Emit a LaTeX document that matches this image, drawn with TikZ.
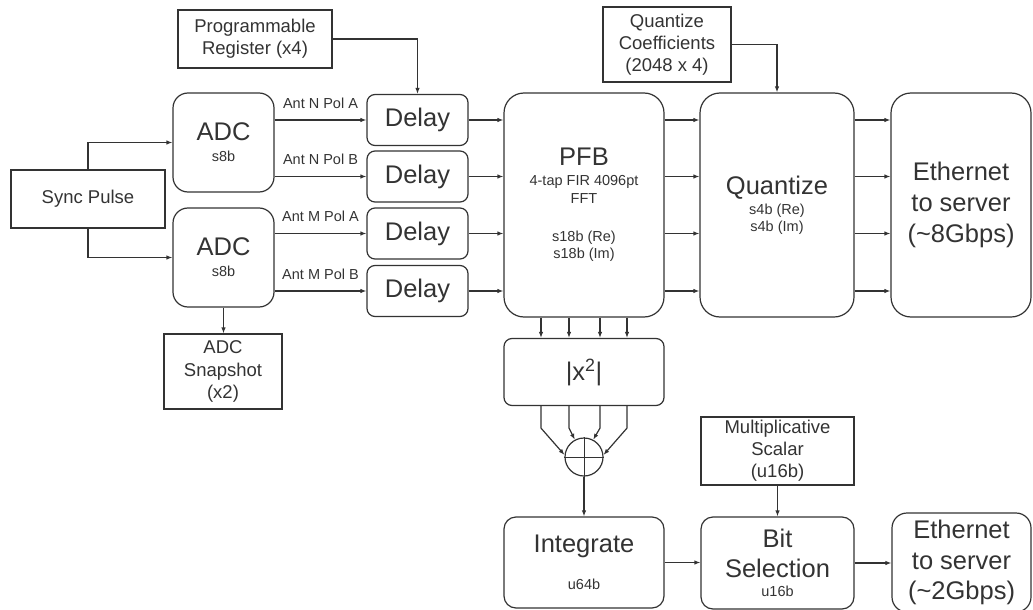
\documentclass[tikz,border=0pt]{standalone}
\usepackage{fontspec}
\setmainfont{Liberation Sans}
\usetikzlibrary{arrows.meta}
\definecolor{diagink}{HTML}{333333}
\newcommand\bigtxt{\fontsize{25.5}{30.6}\selectfont}
\newcommand\midtxt{\fontsize{18.5}{22.2}\selectfont}
\newcommand\smalltxt{\fontsize{14.5}{17.4}\selectfont}

\begin{document}
\begin{tikzpicture}[x=1pt, y=-1pt, line width=1.2pt, color=diagink,
  blk/.style={draw, rounded corners=#1, inner sep=0pt, align=center},
  sqbox/.style={draw, inner sep=0pt, align=center, font=\midtxt},
  link/.style={-{Latex[length=6pt,width=4.5pt]}},
  lbl/.style={above=11pt, inner sep=0pt, font=\smalltxt}]
\clip (0,0) rectangle (1033,610);

% inputs
\node[sqbox, minimum width=154pt, minimum height=58pt] (progreg) at (255,39) {Programmable\\Register (x4)};
\node[sqbox, minimum width=154pt, minimum height=58pt] (sync) at (88,199) {Sync Pulse};
\node[blk=15pt, font=\smalltxt, minimum width=101pt, minimum height=99pt] (adc1) at (223.5,142.5) {{\bigtxt ADC}\\[3.6pt]s8b};
\node[blk=15pt, font=\smalltxt, minimum width=101pt, minimum height=99pt] (adc2) at (223.5,257.5) {{\bigtxt ADC}\\[3.6pt]s8b};
\node[sqbox, minimum width=118pt, minimum height=75pt] (snap) at (223,371.5) {ADC\\Snapshot\\(x2)};
\foreach \i/\y in {1/120,2/176.5,3/233.5,4/291}
  \node[blk=8pt, font=\bigtxt, minimum width=101pt, minimum height=51pt] (delay\i) at (417.5,\y) {Delay};

% channeliser
\node[blk=20pt, font=\smalltxt, minimum width=160pt, minimum height=224pt] (pfb) at (584,205) {{\bigtxt PFB}\\[2.6pt]4-tap FIR 4096pt\\FFT\\[20.6pt]s18b (Re)\\s18b (Im)};
\node[sqbox, minimum width=128pt, minimum height=75pt] (qcoef) at (667,44.5) {Quantize\\Coefficients\\(2048 x 4)};
\node[blk=20pt, font=\smalltxt, minimum width=154pt, minimum height=224pt] (quant) at (777,205) {{\bigtxt Quantize}\\[2.6pt]s4b (Re)\\s4b (Im)};
\node[blk=20pt, font=\bigtxt, minimum width=140pt, minimum height=224pt] (eth1) at (961,205) {Ethernet\\to server\\(\textasciitilde 8Gbps)};

% power path
\node[blk=8pt, font=\bigtxt, minimum width=160pt, minimum height=67pt] (sq) at (584,372) {|x\textsuperscript{2}|};
\node[circle, draw, minimum size=38pt, inner sep=0pt] (sum) at (584,457) {};
\node[blk=12pt, font=\smalltxt, minimum width=160pt, minimum height=91pt] (integ) at (584,562.5) {{\bigtxt Integrate}\\[19.6pt]u64b};
\node[sqbox, minimum width=153pt, minimum height=68pt] (mult) at (777.5,451) {Multiplicative\\Scalar\\(u16b)};
\node[blk=12pt, font=\bigtxt, minimum width=153pt, minimum height=92pt] (bitsel) at (777.5,563) {Bit\\Selection\\[-11.6pt]{\smalltxt u16b}};
\node[blk=15pt, font=\bigtxt, minimum width=139pt, minimum height=99pt] (eth2) at (961.5,562.5) {Ethernet\\to server\\(\textasciitilde 2Gbps)};

\draw[link] (progreg.east) -| (delay1.north);
\draw[link] (qcoef.east) -| (quant.north);
\draw[link] (sync.north) |- (adc1.west);
\draw[link] (sync.south) |- (adc2.west);
\draw[link] (adc1.east |- delay1.west) -- node[lbl] {Ant N Pol A} (delay1.west);
\draw[link] (adc1.east |- delay2.west) -- node[lbl] {Ant N Pol B} (delay2.west);
\draw[link] (adc2.east |- delay3.west) -- node[lbl] {Ant M Pol A} (delay3.west);
\draw[link] (adc2.east |- delay4.west) -- node[lbl] {Ant M Pol B} (delay4.west);
\draw[link] (adc2.south) -- (adc2.south |- snap.north);
\foreach \i in {1,...,4} {
  \draw[link] (delay\i.east) -- (delay\i.east -| pfb.west);
  \draw[link] (pfb.east |- delay\i.east) -- (quant.west |- delay\i.east);
  \draw[link] (quant.east |- delay\i.east) -- (eth1.west |- delay\i.east);
}
\foreach \dx in {-43,-15,16,43}
  \draw[link] ([xshift=\dx pt]pfb.south) -- ([xshift=\dx pt]sq.north);
\foreach \dx/\ang in {-43/174,-15/118,16/62,43/6}
  \draw[link] ([xshift=\dx pt]sq.south) -- ++(0,22) -- (sum.\ang);
\draw[line width=1pt] (sum.north) -- (sum.south) (sum.west) -- (sum.east);
\draw[link] (sum.south) -- (integ.north);
\draw[link] (integ.east) -- (integ.east -| bitsel.west);
\draw[link] (mult.south) -- (bitsel.north);
\draw[link] (bitsel.east) -- (bitsel.east -| eth2.west);
\end{tikzpicture}
\end{document}
